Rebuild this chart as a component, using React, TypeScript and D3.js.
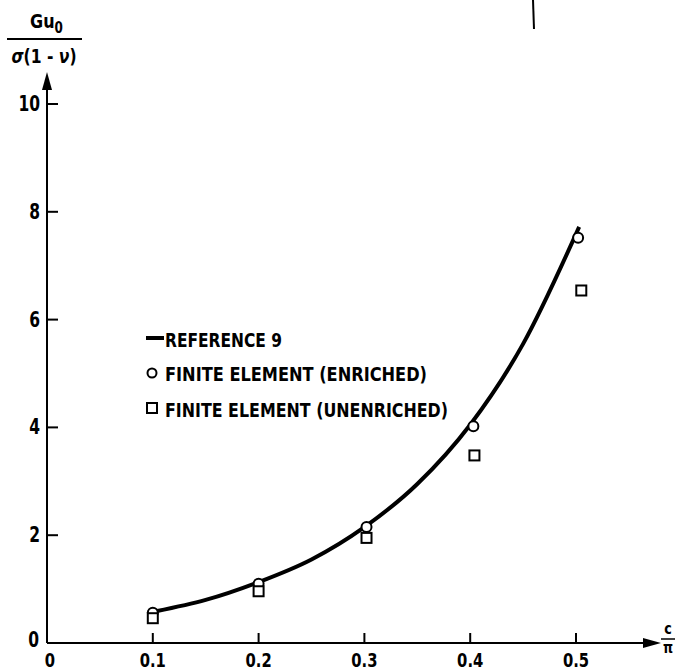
import React from "react";
import * as d3 from "d3";

// reference 9 curve
const refX = [0.103, 0.15, 0.2, 0.25, 0.3, 0.35, 0.4, 0.45, 0.503];
const refY = [0.59, 0.8, 1.13, 1.55, 2.15, 2.95, 4.05, 5.55, 7.72];

// finite element points
const enrichedX = [0.1, 0.2, 0.302, 0.403, 0.502];
const enrichedY = [0.56, 1.1, 2.15, 4.02, 7.52];
const unenrichedX = [0.1, 0.2, 0.302, 0.404, 0.505];
const unenrichedY = [0.46, 0.96, 1.95, 3.48, 6.54];

const xTicks = [0.1, 0.2, 0.3, 0.4, 0.5];
const yTicks = [2, 4, 6, 8, 10];

const legendLabels = [
  "REFERENCE 9",
  "FINITE ELEMENT (ENRICHED)",
  "FINITE ELEMENT (UNENRICHED)",
];
const legendWidths = [117, 262, 283];

const font = "'DejaVu Sans', sans-serif";

// text squeezed horizontally to mimic the condensed lettering
const Narrow = ({ x, y, sx = 0.74, anchor = "start", size = 20, children }: any) => (
  <text
    transform={`translate(${x},${y}) scale(${sx},1)`}
    fontSize={size}
    textAnchor={anchor}
  >
    {children}
  </text>
);

const App = () => {
  const width = 676;
  const height = 672;

  const x = d3.scaleLinear().domain([0, 0.5]).range([47, 576]);
  const y = d3.scaleLinear().domain([0, 10]).range([643, 104]);

  const line = d3
    .line<number>()
    .x((d, i) => x(refX[i]))
    .y((d) => y(d))
    .curve(d3.curveMonotoneX);

  const x0 = x(0);
  const y0 = y(0);

  return (
    <div style={{ position: "absolute", left: 0, top: 0 }}>
      <svg width={width} height={height} style={{ display: "block", background: "#fff" }}>
        <g fill="#000" fontFamily={font} fontWeight="bold">
          {/* Y axis title as fraction */}
          <g transform="translate(30,28) scale(0.8,1)">
            <text fontSize={20}>
              Gu
              <tspan fontSize={15} dy={5}>0</tspan>
            </text>
          </g>
          <line x1={7} x2={82} y1={39} y2={39} stroke="#000" strokeWidth={2} />
          <g transform="translate(44,63) scale(0.82,1)">
            <text fontSize={19} textAnchor="middle">
              <tspan fontStyle="italic">σ</tspan>(1 - <tspan fontStyle="italic">ν</tspan>)
            </text>
          </g>

          {/* Y axis */}
          <line x1={x0} x2={x0} y1={y0} y2={84} stroke="#000" strokeWidth={2} />
          <path d={`M${x0},72 L${x0 - 5},90 L${x0 + 5},90 Z`} />
          {yTicks.map((t) => (
            <g key={t}>
              <line x1={x0} x2={x0 + 11} y1={y(t)} y2={y(t)} stroke="#000" strokeWidth={2} />
              <Narrow x={x0 - 7} y={y(t) + 7} anchor="end" size={21}>
                {t}
              </Narrow>
            </g>
          ))}
          <Narrow x={x0 - 8} y={y0 + 4} anchor="end" size={21}>
            0
          </Narrow>

          {/* X axis */}
          <line x1={x0} x2={650} y1={y0} y2={y0} stroke="#000" strokeWidth={2} />
          <path d={`M661,${y0} L643,${y0 - 5} L643,${y0 + 5} Z`} />
          {xTicks.map((t) => (
            <g key={t}>
              <line x1={x(t)} x2={x(t)} y1={y0} y2={y0 - 10} stroke="#000" strokeWidth={2} />
              <Narrow x={x(t)} y={667} anchor="middle" size={20}>
                {t.toFixed(1)}
              </Narrow>
            </g>
          ))}
          <Narrow x={x0 + 3} y={667} anchor="middle" size={20}>
            0
          </Narrow>
          <Narrow x={668} y={634} anchor="middle" size={15} sx={0.85}>
            c
          </Narrow>
          <line x1={661} x2={675} y1={639} y2={639} stroke="#000" strokeWidth={1.5} />
          <Narrow x={668} y={653} anchor="middle" size={15} sx={0.85}>
            π
          </Narrow>
        </g>

        {/* Reference 9 curve */}
        <path d={line(refY) || ""} fill="none" stroke="#000" strokeWidth={4} />

        {/* Enriched points */}
        {enrichedY.map((v, i) => (
          <circle
            key={`c${i}`}
            cx={x(enrichedX[i])}
            cy={y(v)}
            r={5}
            fill="#fff"
            stroke="#000"
            strokeWidth={2}
          />
        ))}

        {/* Unenriched points */}
        {unenrichedY.map((v, i) => (
          <rect
            key={`s${i}`}
            x={x(unenrichedX[i]) - 5}
            y={y(v) - 5}
            width={10}
            height={10}
            fill="#fff"
            stroke="#000"
            strokeWidth={2}
          />
        ))}

        {/* Legend */}
        <g fontFamily={font} fontWeight="bold" fontSize={20} fill="#000">
          <line x1={146} x2={164} y1={338} y2={338} stroke="#000" strokeWidth={4} />
          <circle cx={152} cy={373} r={4.5} fill="#fff" stroke="#000" strokeWidth={2} />
          <rect x={147} y={403} width={10} height={10} fill="#fff" stroke="#000" strokeWidth={2} />
          {legendLabels.map((lbl, i) => (
            <text
              key={lbl}
              x={165}
              y={[347, 381, 417][i]}
              textLength={legendWidths[i]}
              lengthAdjust="spacingAndGlyphs"
            >
              {lbl}
            </text>
          ))}
        </g>

        {/* stray mark at top of the scan */}
        <line x1={533} x2={534} y1={0} y2={29} stroke="#000" strokeWidth={2} />
      </svg>
    </div>
  );
};

export default App;
